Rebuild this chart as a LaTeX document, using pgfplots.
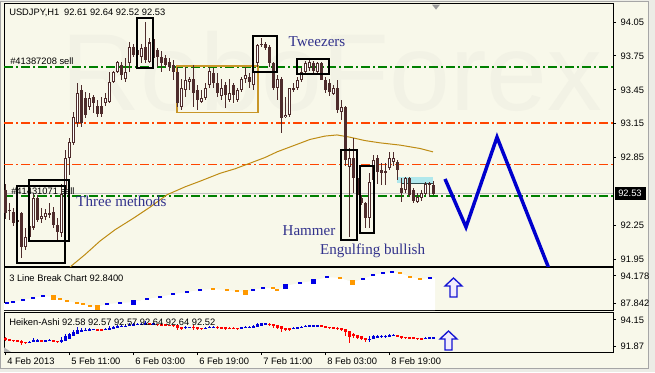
\documentclass[border=0pt]{standalone}
\usepackage{pgfplots}
\pgfplotsset{compat=1.18}
\usepackage{pgfplotstable}
\usepackage{fontspec}
\setmainfont{Liberation Sans}
\newfontfamily\patfont{Liberation Serif}

\definecolor{ivory}{RGB}{248,248,234}
\definecolor{outerbg}{RGB}{236,236,230}
\definecolor{candle}{RGB}{78,44,44}
\definecolor{lvlgreen}{RGB}{0,128,0}
\definecolor{lvlred}{RGB}{255,69,0}
\definecolor{magold}{RGB}{190,140,20}
\definecolor{boxgold}{RGB}{200,150,40}
\definecolor{patblue}{RGB}{50,50,140}
\definecolor{fcblue}{RGB}{0,0,205}
\definecolor{lbblue}{RGB}{0,0,230}
\definecolor{lborange}{RGB}{255,153,0}
\definecolor{hablue}{RGB}{0,0,220}
\definecolor{hared}{RGB}{255,0,0}
\definecolor{cyanbox}{RGB}{176,232,236}
\definecolor{wm}{RGB}{242,242,229}
\definecolor{curline}{RGB}{192,192,192}
\definecolor{darkteal}{RGB}{47,79,79}

\newcommand\tickfont{\fontsize{7}{8}\selectfont}

\pgfplotstableread{
x o h l c
0 92.56 92.62 92.31 92.36
1 92.39 92.45 92.30 92.38
2 92.37 92.40 92.24 92.27
3 92.28 92.34 92.19 92.30
4 92.36 92.37 91.96 92.06
5 92.06 92.23 92.03 92.15
6 92.15 92.30 92.12 92.24
7 92.23 92.53 92.21 92.49
8 92.49 92.52 92.28 92.30
9 92.31 92.40 92.27 92.33
10 92.32 92.39 92.30 92.36
11 92.35 92.45 92.31 92.36
12 92.37 92.41 92.23 92.25
13 92.25 92.31 92.12 92.19
14 92.18 92.62 92.15 92.53
15 92.56 92.92 92.52 92.85
16 92.85 93.02 92.70 92.99
17 92.98 93.25 92.96 93.21
18 93.16 93.51 93.12 93.42
19 93.45 93.49 93.12 93.16
20 93.38 93.43 93.20 93.23
21 93.30 93.42 93.27 93.38
22 93.39 93.40 93.24 93.33
23 93.31 93.36 93.21 93.24
24 93.31 93.39 93.21 93.24
25 93.33 93.42 93.31 93.38
26 93.34 93.61 93.33 93.52
27 93.52 93.62 93.51 93.61
28 93.61 93.71 93.60 93.70
29 93.67 93.70 93.54 93.58
30 93.55 93.73 93.52 93.61
31 93.69 93.87 93.61 93.83
32 93.83 93.86 93.74 93.76
33 93.76 93.85 93.70 93.80
34 93.74 93.86 93.69 93.82
35 93.83 94.05 93.69 93.71
36 93.70 93.91 93.69 93.87
37 93.90 93.93 93.71 93.73
38 93.80 93.82 93.65 93.74
39 93.74 93.79 93.61 93.69
40 93.73 93.76 93.65 93.67
41 93.70 93.73 93.62 93.65
42 93.67 93.71 93.54 93.61
43 93.61 93.65 93.30 93.33
44 93.30 93.55 93.27 93.47
45 93.45 93.65 93.39 93.54
46 93.52 93.56 93.45 93.55
47 93.55 93.67 93.30 93.42
48 93.45 93.49 93.27 93.36
49 93.34 93.45 93.33 93.38
50 93.38 93.51 93.36 93.47
51 93.49 93.65 93.47 93.62
52 93.60 93.64 93.47 93.51
53 93.51 93.60 93.39 93.42
54 93.40 93.55 93.36 93.47
55 93.49 93.52 93.29 93.40
56 93.36 93.55 93.34 93.42
57 93.49 93.51 93.33 93.40
58 93.36 93.47 93.34 93.45
59 93.45 93.56 93.43 93.55
60 93.55 93.65 93.51 93.58
61 93.56 93.60 93.47 93.52
62 93.49 93.69 93.45 93.61
63 93.69 93.86 93.65 93.85
64 93.85 93.91 93.83 93.86
65 93.86 93.87 93.80 93.82
66 93.83 93.85 93.65 93.69
67 93.69 93.70 93.45 93.47
68 93.47 93.58 93.36 93.55
69 93.55 93.56 93.07 93.20
70 93.21 93.39 93.20 93.23
71 93.23 93.47 93.21 93.47
72 93.47 93.51 93.43 93.45
73 93.47 93.56 93.45 93.54
74 93.54 93.64 93.52 93.61
75 93.61 93.71 93.60 93.69
76 93.64 93.71 93.62 93.70
77 93.69 93.71 93.60 93.62
78 93.61 93.70 93.60 93.69
79 93.69 93.70 93.54 93.54
80 93.54 93.56 93.42 93.45
81 93.51 93.55 93.40 93.43
82 93.41 93.49 93.40 93.47
83 93.47 93.54 93.24 93.27
84 93.25 93.36 93.18 93.30
85 93.30 93.31 92.78 92.83
86 92.77 92.93 92.15 92.85
87 92.85 93.02 92.54 92.67
88 92.67 92.71 92.47 92.52
89 92.49 92.52 92.43 92.45
90 92.45 92.46 92.23 92.31
91 92.31 92.71 92.23 92.63
92 92.65 92.87 92.61 92.83
93 92.85 92.87 92.62 92.72
94 92.74 92.80 92.61 92.71
95 92.73 92.80 92.61 92.71
96 92.76 92.90 92.74 92.85
97 92.81 92.90 92.78 92.85
98 92.81 92.83 92.65 92.74
99 92.58 92.67 92.46 92.54
100 92.56 92.68 92.54 92.67
101 92.67 92.68 92.50 92.52
102 92.56 92.58 92.45 92.47
103 92.46 92.54 92.45 92.50
104 92.49 92.56 92.47 92.54
105 92.53 92.63 92.52 92.62
106 92.62 92.63 92.50 92.61
107 92.61 92.64 92.52 92.53
}\candles

\pgfplotstableread{
x o h l c
6 92.19 92.30 92.12 92.20
7 92.20 92.53 92.20 92.37
8 92.28 92.52 92.28 92.40
10 92.33 92.39 92.30 92.34
11 92.34 92.45 92.31 92.37
14 92.28 92.62 92.15 92.37
15 92.33 92.92 92.33 92.71
16 92.52 93.02 92.52 92.89
17 92.71 93.25 92.71 93.10
18 92.90 93.51 92.90 93.30
19 93.10 93.49 93.10 93.31
20 93.21 93.43 93.20 93.31
21 93.26 93.42 93.26 93.34
22 93.30 93.40 93.24 93.34
25 93.30 93.42 93.30 93.36
26 93.33 93.61 93.33 93.45
27 93.39 93.62 93.39 93.57
28 93.48 93.71 93.48 93.66
29 93.57 93.70 93.54 93.62
30 93.59 93.73 93.52 93.60
31 93.60 93.87 93.60 93.75
32 93.68 93.86 93.68 93.80
33 93.74 93.85 93.70 93.78
34 93.76 93.86 93.69 93.78
35 93.77 94.05 93.69 93.82
37 93.80 93.93 93.71 93.82
45 93.49 93.65 93.39 93.51
46 93.50 93.56 93.45 93.52
50 93.42 93.51 93.36 93.43
51 93.43 93.65 93.43 93.56
52 93.50 93.64 93.47 93.56
59 93.43 93.56 93.43 93.50
60 93.47 93.65 93.47 93.57
61 93.52 93.60 93.47 93.54
62 93.53 93.69 93.45 93.56
63 93.55 93.86 93.55 93.76
64 93.66 93.91 93.66 93.86
65 93.76 93.87 93.76 93.84
72 93.36 93.51 93.36 93.47
73 93.42 93.56 93.42 93.51
74 93.47 93.64 93.47 93.58
75 93.53 93.71 93.53 93.65
76 93.59 93.71 93.59 93.67
77 93.63 93.71 93.60 93.66
78 93.64 93.70 93.60 93.65
91 92.47 92.71 92.23 92.48
92 92.48 92.87 92.48 92.74
93 92.61 92.87 92.61 92.77
94 92.69 92.80 92.61 92.72
95 92.70 92.80 92.61 92.71
96 92.71 92.90 92.71 92.81
97 92.76 92.90 92.76 92.84
105 92.52 92.63 92.52 92.58
106 92.55 92.63 92.50 92.59
107 92.57 92.64 92.52 92.58
}\habull

\pgfplotstableread{
x o h l c
0 92.55 92.62 92.31 92.46
1 92.50 92.50 92.30 92.38
2 92.44 92.44 92.24 92.32
3 92.38 92.38 92.19 92.28
4 92.33 92.37 91.96 92.19
5 92.26 92.26 92.03 92.12
9 92.34 92.40 92.27 92.33
12 92.36 92.41 92.23 92.32
13 92.34 92.34 92.12 92.22
23 93.32 93.36 93.21 93.28
24 93.30 93.39 93.21 93.29
36 93.80 93.91 93.69 93.79
38 93.81 93.82 93.65 93.75
39 93.78 93.79 93.61 93.71
40 93.75 93.76 93.65 93.70
41 93.73 93.73 93.62 93.68
42 93.71 93.71 93.54 93.63
43 93.67 93.67 93.30 93.47
44 93.57 93.57 93.27 93.40
47 93.51 93.67 93.30 93.49
48 93.50 93.50 93.27 93.39
49 93.45 93.45 93.33 93.38
53 93.53 93.60 93.39 93.48
54 93.51 93.55 93.36 93.45
55 93.48 93.52 93.29 93.43
56 93.46 93.55 93.34 93.42
57 93.44 93.51 93.33 93.43
58 93.44 93.47 93.34 93.41
66 93.80 93.85 93.65 93.76
67 93.78 93.78 93.45 93.58
68 93.68 93.68 93.36 93.49
69 93.59 93.59 93.07 93.35
70 93.47 93.47 93.20 93.26
71 93.37 93.47 93.21 93.35
79 93.65 93.70 93.54 93.62
80 93.64 93.64 93.42 93.49
81 93.57 93.57 93.40 93.47
82 93.52 93.52 93.40 93.44
83 93.48 93.54 93.24 93.38
84 93.43 93.43 93.18 93.27
85 93.35 93.35 92.78 93.06
86 93.21 93.21 92.15 92.68
87 92.95 93.02 92.54 92.77
88 92.86 92.86 92.47 92.59
89 92.73 92.73 92.43 92.47
90 92.60 92.60 92.23 92.36
98 92.80 92.83 92.65 92.76
99 92.78 92.78 92.46 92.56
100 92.67 92.68 92.54 92.61
101 92.64 92.68 92.50 92.59
102 92.62 92.62 92.45 92.52
103 92.57 92.57 92.45 92.49
104 92.53 92.56 92.47 92.52
}\habear

\pgfplotsset{
  mtpanel/.style={
    scale only axis, width=456.75pt, anchor=south west,
    xmin=-0.25, xmax=152,
    axis background/.style={fill=ivory},
    axis line style={black, line width=0.75pt},
    tick style={black, line width=0.75pt},
    tick align=outside, major tick length=2.25pt,
    ytick pos=right, yticklabel pos=right,
    yticklabel style={font=\tickfont, anchor=west},
    xticklabel style={font=\tickfont},
    scaled y ticks=false,
    clip=true,
  },
  lvl/.style={#1, line width=1.15pt, dash pattern=on 6.75pt off 2.25pt on 1.5pt off 2.25pt, forget plot},
}

\begin{document}
\begin{tikzpicture}
\fill[outerbg] (0,0) rectangle (491.25pt,279pt);
\begin{scope}[x=0.75pt, y=-0.75pt, yshift=279pt]
\fill[ivory] (1,2) rectangle (648,368);
\draw[black!35, line width=0.75pt] (0.5,1.5) rectangle (648,368);
\end{scope}

% ================= MAIN PRICE PANEL =================
\begin{axis}[mtpanel, at={(3pt,79.5pt)}, height=196.5pt,
  ymin=91.889, ymax=94.210, xtick=\empty,
  ytick={91.95,92.25,92.85,93.15,93.45,93.75,94.05},
  yticklabel style={/pgf/number format/.cd, fixed, fixed zerofill, precision=2, assume math mode=true},
]
% watermark (very faint)
\node[anchor=base west, text=wm, font=\fontsize{82}{82}\selectfont, inner sep=0pt] at (axis cs:14,93.27) {RoboForex};

% horizontal levels
\addplot[lvl=lvlgreen] coordinates {(-0.25,93.65) (152,93.65)};
\addplot[lvl=lvlred] coordinates {(-0.25,93.155) (152,93.155)};
\addplot[lvl=lvlred] coordinates {(-0.25,92.79) (152,92.79)};
\addplot[curline, line width=0.75pt, forget plot] coordinates {(-0.25,92.53) (152,92.53)};
\addplot[lvl=lvlgreen] coordinates {(-0.25,92.51) (152,92.51)};

% order labels
\node[anchor=west, font=\tickfont, inner sep=0pt] at (axis cs:1.25,93.70) {\#41387208 sell};
\node[anchor=west, font=\tickfont, inner sep=0pt] at (axis cs:1.5,92.555) {\#41431071 sell};

% golden rectangle
\draw[boxgold, line width=1pt] (axis cs:43,93.25) rectangle (axis cs:63.25,93.66);

% cyan zone
\fill[cyanbox] (axis cs:98,92.62) rectangle (axis cs:107,92.68);
\draw[darkteal, line width=0.75pt] (axis cs:99,92.62) -- (axis cs:107,92.62);

% moving average
\addplot[magold, line width=0.75pt, forget plot] coordinates {
(16.25,91.88) (20,91.99) (23.75,92.11) (27.5,92.21) (32,92.31) (36.25,92.41)
(40.5,92.52) (45,92.59) (48.75,92.64) (53.75,92.71) (57.5,92.75) (61.25,92.80)
(65,92.85) (68,92.90) (72.5,92.96) (76.25,93.01) (80,93.04) (83,93.05)
(86.25,93.03) (90,93.00) (93.75,92.98) (98.75,92.96) (103.75,92.93) (107,92.90)};

% candles: wicks
\addplot[draw=none, mark=none, forget plot,
  error bars/.cd, y dir=both, y explicit, error mark=none,
  error bar style={draw=candle, line width=0.75pt}]
  table[x=x, y expr={(\thisrow{h}+\thisrow{l})/2}, y error expr={(\thisrow{h}-\thisrow{l})/2}] {\candles};
% candles: bodies
\addplot[draw=none, mark=none, forget plot,
  error bars/.cd, y dir=both, y explicit, error mark=none,
  error bar style={draw=candle, line width=2.25pt}]
  table[x=x, y expr={(\thisrow{o}+\thisrow{c})/2}, y error expr={max(abs(\thisrow{c}-\thisrow{o})/2,0.0045)}] {\candles};
% candles: hollow inside of bullish bodies
\addplot[draw=none, mark=none, forget plot,
  error bars/.cd, y dir=both, y explicit, error mark=none,
  error bar style={draw=white, line width=0.75pt}]
  table[x=x, y expr={(\thisrow{o}+\thisrow{c})/2}, y error expr={max(0,(\thisrow{c}-\thisrow{o})/2-0.009)}] {\candles};

% pattern boxes
\draw[black, line width=1.5pt] (axis cs:33,93.64) rectangle (axis cs:37,94.09);
\draw[black, line width=1.5pt] (axis cs:62,93.61) rectangle (axis cs:68,93.93);
\draw[black, line width=1.5pt] (axis cs:73,93.59) rectangle (axis cs:81,93.72);
\draw[black, line width=1.5pt] (axis cs:84,92.12) rectangle (axis cs:88,92.92);
\draw[black, line width=1.5pt] (axis cs:88.75,92.18) rectangle (axis cs:92.25,92.775);
\draw[black, line width=1.5pt] (axis cs:3,91.915) rectangle (axis cs:15,92.60);
\draw[black, line width=1.5pt] (axis cs:6,92.11) rectangle (axis cs:16,92.65);

% forecast
\addplot[fcblue, line width=2.6pt, forget plot] coordinates {(110,92.66) (115.25,92.234) (123,93.03) (136.5,91.82)};

% texts
\node[anchor=west, font=\tickfont, inner sep=0pt] at (axis cs:1,94.13) {USDJPY,H1\enspace 92.61 92.64 92.52 92.53};
\node[font=\patfont\fontsize{11.3}{12}\selectfont, text=patblue, inner sep=0pt] at (axis cs:78,93.88) {Tweezers};
\node[font=\patfont\fontsize{11.3}{12}\selectfont, text=patblue, inner sep=0pt] at (axis cs:29.1,92.46) {Three methods};
\node[font=\patfont\fontsize{11.3}{12}\selectfont, text=patblue, inner sep=0pt] at (axis cs:76,92.20) {Hammer};
\node[font=\patfont\fontsize{11.3}{12}\selectfont, text=patblue, inner sep=0pt] at (axis cs:91.9,92.02) {Engulfing bullish};

\fill[black!40] (axis cs:106.75,94.205) -- (axis cs:108.75,94.205) -- (axis cs:107.75,94.16) -- cycle;
\end{axis}

% ================= 3 LINE BREAK PANEL =================
\begin{axis}[mtpanel, at={(3pt,46.5pt)}, height=31.5pt,
  ymin=86.199, ymax=96.055, xtick=\empty,
  ytick={87.842,94.178}, yticklabels={87.842,94.178}]
\addplot[fill=white, draw=none, forget plot] coordinates {
(-0.25,87.84) (0.5,87.84) (2,88.08) (4.5,88.55) (7,89.02) (9.5,89.49) (12,89.25)
(13.75,88.78) (15.5,88.31) (18,87.84) (19.5,87.61) (21.25,87.14) (23,86.90)
(25.5,87.61) (28.75,87.84) (32,88.08) (35.5,88.78) (38.75,89.25) (42,89.95)
(45.5,90.42) (48.75,90.89) (52,91.13) (55.5,90.89) (58,90.66) (60,90.42)
(62,90.89) (64.5,91.36) (67,91.36) (68,90.89) (70,91.83) (73.75,92.54)
(77,93.01) (80.5,93.94) (83.75,93.71) (86.75,92.77) (89.5,93.47) (92,94.41)
(94.5,94.88) (96.75,95.12) (98.75,94.88) (101.25,93.94) (103.75,93.47)
(106.25,93.71) (107.5,93.71)} \closedcycle;
\addplot[only marks, mark=-, mark size=1.6pt, lbblue, mark options={line width=1.5pt}, forget plot] coordinates {
(0.5,87.84) (2,88.08) (4.5,88.55) (7,89.02) (9.5,89.49) (25.5,87.61) (28.75,87.84)
(35.5,88.78) (38.75,89.25) (42,89.95) (45.5,90.42) (48.75,90.89) (62,90.89)
(64.5,91.36) (73.75,92.54) (80.5,93.94) (89.5,93.47) (92,94.41) (94.5,94.88)
(96.75,95.12) (106.25,93.71)};
\addplot[only marks, mark=square*, mark size=1.5pt, lbblue, forget plot] coordinates {
(32,88.08) (70,91.83) (77,93.01)};
\addplot[only marks, mark=-, mark size=1.6pt, lborange, mark options={line width=1.5pt}, forget plot] coordinates {
(13.75,88.78) (15.5,88.31) (18,87.84) (19.5,87.61) (21.25,87.14) (52,91.13)
(55.5,90.89) (58,90.66) (67,91.36) (68,90.89) (83.75,93.71) (98.75,94.88)
(101.25,93.94) (103.75,93.47)};
\addplot[only marks, mark=square*, mark size=1.5pt, lborange, forget plot] coordinates {
(12,89.25) (23,86.90) (60,90.42) (86.75,92.77)};
\node[anchor=west, font=\tickfont, inner sep=0pt] at (axis cs:1,93.64) {3 Line Break Chart 92.8400};
\end{axis}

% ================= HEIKEN-ASHI PANEL =================
\begin{axis}[mtpanel, at={(3pt,15pt)}, height=30pt,
  ymin=91.344, ymax=94.85,
  ytick={91.87,94.15}, yticklabels={91.87,94.15},
  xtick={0,16,32,48,64,80,96},
  xticklabels={4 Feb 2013, 5 Feb 11:00, 6 Feb 03:00, 6 Feb 19:00, 7 Feb 11:00, 8 Feb 03:00, 8 Feb 19:00},
  xtick pos=left, xticklabel pos=left,
  xticklabel style={anchor=north west, inner sep=1.5pt},
]
\addplot[draw=none, mark=none, forget plot,
  error bars/.cd, y dir=both, y explicit, error mark=none,
  error bar style={draw=hablue, line width=0.75pt}]
  table[x=x, y expr={(\thisrow{h}+\thisrow{l})/2}, y error expr={(\thisrow{h}-\thisrow{l})/2}] {\habull};
\addplot[draw=none, mark=none, forget plot,
  error bars/.cd, y dir=both, y explicit, error mark=none,
  error bar style={draw=hablue, line width=2.25pt}]
  table[x=x, y expr={(\thisrow{o}+\thisrow{c})/2}, y error expr={max(abs(\thisrow{c}-\thisrow{o})/2,0.05)}] {\habull};
\addplot[draw=none, mark=none, forget plot,
  error bars/.cd, y dir=both, y explicit, error mark=none,
  error bar style={draw=hared, line width=0.75pt}]
  table[x=x, y expr={(\thisrow{h}+\thisrow{l})/2}, y error expr={(\thisrow{h}-\thisrow{l})/2}] {\habear};
\addplot[draw=none, mark=none, forget plot,
  error bars/.cd, y dir=both, y explicit, error mark=none,
  error bar style={draw=hared, line width=2.25pt}]
  table[x=x, y expr={(\thisrow{o}+\thisrow{c})/2}, y error expr={max(abs(\thisrow{c}-\thisrow{o})/2,0.05)}] {\habear};
\node[anchor=west, font=\tickfont, inner sep=0pt] at (axis cs:1,93.95) {Heiken-Ashi 92.58 92.57 92.57 92.64 92.64 92.52};
\fill[black!30] (axis cs:-0.25,91.35) -- (axis cs:-0.25,91.75) -- (axis cs:1.5,91.35) -- cycle;
\end{axis}

% ================= overlays (pixel coordinates) =================
\begin{scope}[x=0.75pt, y=-0.75pt, yshift=279pt]
\fill[black] (615,187) rectangle (646,199.5);
\node[anchor=west, text=white, font=\tickfont, inner sep=0pt] at (618,193.3) {92.53};
\draw[fill={rgb,255:red,242;green,236;blue,252}, draw={rgb,255:red,20;green,20;blue,210}, line width=1pt, line join=miter]
  (453.5,278) -- (462,286) -- (457,286) -- (457,297) -- (450,297) -- (450,286) -- (445,286) -- cycle;
\draw[fill={rgb,255:red,242;green,236;blue,252}, draw={rgb,255:red,20;green,20;blue,210}, line width=1pt, line join=miter]
  (448.5,331) -- (457,339) -- (452,339) -- (452,350) -- (445,350) -- (445,339) -- (440,339) -- cycle;
\end{scope}
\end{tikzpicture}
\end{document}
